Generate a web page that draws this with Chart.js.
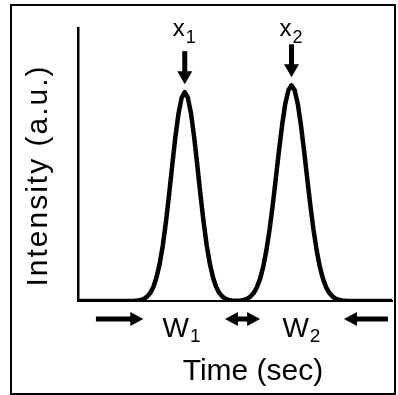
<!DOCTYPE html>
<html>
<head>
<meta charset="utf-8">
<script src="https://cdn.jsdelivr.net/npm/chart.js"></script>
<style>
  html, body { margin: 0; padding: 0; background: #fff; }
  #wrap { position: relative; width: 398px; height: 395px; }
  #frame { position: absolute; left: 10px; top: 4px; width: 382px; height: 387px; border: 2px solid #000; pointer-events: none; }
</style>
</head>
<body>
<div id="wrap">
  <canvas id="myChart" width="398" height="395"></canvas>
  <div id="frame"></div>
</div>
<script>
// time axis (arbitrary units 0-100) and the detector signal
var time = [0, 18, 19, 20, 21, 22, 23, 24, 25, 26, 27, 28, 29, 30, 31, 32, 33, 34, 35, 36, 37, 38, 39, 40,
    41, 42, 43, 44, 45, 46, 47, 48, 49, 50, 51, 52, 53, 54, 55, 56, 57, 58, 59, 60, 61, 62, 63, 64, 65,
    66, 67, 68, 69, 70, 71, 72, 73, 74, 75, 76, 77, 78, 79, 80, 81, 82, 83, 84, 85, 86, 100];
var intensity = [0, 0.1, 0.2, 0.4, 0.8, 1.6, 2.9, 5.1, 8.6, 13.6, 20.3, 28.9, 38.9, 49.6, 60.0, 68.6, 74.4, 76.5, 74.4, 68.6, 60.0, 49.6, 38.9, 28.9,
    20.3, 13.6, 8.6, 5.1, 2.9, 1.6, 0.8, 0.4, 0.2, 0.1, 0.1, 0.2, 0.5, 0.9, 1.7, 3.0, 5.1, 8.2, 12.6, 18.6, 26.1, 35.0, 44.9, 55.0, 64.4,
    72.2, 77.2, 79.0, 77.2, 72.2, 64.4, 55.0, 44.9, 35.0, 26.1, 18.6, 12.6, 8.2, 5.1, 3.0, 1.7, 0.9, 0.5, 0.2, 0.1, 0, 0];

// peak positions (x1, x2) and the peak width labels (W1, W2)
var peakTimes = [34, 68];
var peakSubs = ['1', '2'];
var widthTimes = [32.8, 71];
var widthSubs = ['1', '2'];

// arrows under the baseline, in time units
var arrowFrom = [5.7, 46.8, 84.7];
var arrowTo = [20.8, 58.0, 98.7];
var arrowHeads = ['end', 'both', 'start'];

var FONT = "'Liberation Sans', Arial, sans-serif";

// text with a lowered subscript, centred on cx
function subText(ctx, base, sub, cx, y, size, subSize, drop) {
    ctx.font = size + 'px ' + FONT;
    var w1 = ctx.measureText(base).width;
    ctx.font = subSize + 'px ' + FONT;
    var w2 = ctx.measureText(sub).width;
    var x0 = cx - (w1 + w2) / 2;
    ctx.textAlign = 'left';
    ctx.textBaseline = 'alphabetic';
    ctx.font = size + 'px ' + FONT;
    ctx.fillText(base, x0, y);
    ctx.font = subSize + 'px ' + FONT;
    ctx.fillText(sub, x0 + w1 + 1, y + drop);
}

function hArrow(ctx, xa, xb, y, heads) {
    var hl = 13, hh = 7, t = 2.5;
    var s0 = (heads === 'start' || heads === 'both') ? xa + hl - 1 : xa;
    var s1 = (heads === 'end' || heads === 'both') ? xb - hl + 1 : xb;
    ctx.fillRect(s0, y - t, s1 - s0, t * 2);
    if (heads === 'end' || heads === 'both') {
        ctx.beginPath();
        ctx.moveTo(xb - hl, y - hh); ctx.lineTo(xb, y); ctx.lineTo(xb - hl, y + hh);
        ctx.closePath(); ctx.fill();
    }
    if (heads === 'start' || heads === 'both') {
        ctx.beginPath();
        ctx.moveTo(xa + hl, y - hh); ctx.lineTo(xa, y); ctx.lineTo(xa + hl, y + hh);
        ctx.closePath(); ctx.fill();
    }
}

var labelsPlugin = {
    id: 'labels',
    afterDraw(chart) {
        var ctx = chart.ctx;
        var xs = chart.scales.x, ys = chart.scales.y, area = chart.chartArea;
        ctx.save();
        ctx.fillStyle = '#000';

        // x1 / x2 with arrows pointing at the peak tops
        peakTimes.forEach(function (t, i) {
            var px = xs.getPixelForValue(t);
            var tip = ys.getPixelForValue(intensity[time.indexOf(t)]) - 8;
            ctx.fillRect(px - 2.5, tip - 33, 5, 21);
            ctx.beginPath();
            ctx.moveTo(px - 7.5, tip - 13); ctx.lineTo(px + 7.5, tip - 13); ctx.lineTo(px, tip);
            ctx.closePath(); ctx.fill();
            subText(ctx, 'x', peakSubs[i], px - 1, area.top + 8, 24, 18, 7);
        });

        // arrows and W1 / W2 under the axis
        var ay = area.bottom + 18;
        arrowFrom.forEach(function (f, i) {
            hArrow(ctx, xs.getPixelForValue(f), xs.getPixelForValue(arrowTo[i]), ay, arrowHeads[i]);
        });
        widthTimes.forEach(function (t, i) {
            subText(ctx, 'W', widthSubs[i], xs.getPixelForValue(t), area.bottom + 36, 28, 19, 5);
        });

        // axis titles
        ctx.textAlign = 'center';
        ctx.textBaseline = 'middle';
        ctx.font = '30px ' + FONT;
        ctx.fillText('Time (sec)', (area.left + area.right) / 2 + 18, area.bottom + 71);

        ctx.translate(area.left - 39, (area.top + area.bottom) / 2 + 11);
        ctx.rotate(-Math.PI / 2);
        ctx.letterSpacing = '2px';
        ctx.fillText('Intensity (a.u.)', 0, 0);
        ctx.letterSpacing = '0px';
        ctx.restore();
    }
};

window.onload = function () {
    var points = time.map(function (t, i) { return { x: t, y: intensity[i] }; });
    var ctx = document.getElementById('myChart').getContext('2d');
    new Chart(ctx, {
        type: 'line',
        data: {
            datasets: [{
                data: points,
                borderColor: '#000',
                borderWidth: 4.5,
                borderJoinStyle: 'round',
                borderCapStyle: 'round',
                pointRadius: 0,
                tension: 0,
                fill: false
            }]
        },
        options: {
            responsive: false,
            animation: false,
            devicePixelRatio: 1,
            layout: { padding: { left: 78, right: 6, top: 28, bottom: 94 } },
            plugins: {
                legend: { display: false },
                tooltip: { enabled: false }
            },
            scales: {
                x: {
                    type: 'linear', min: 0, max: 100,
                    ticks: { display: false },
                    grid: { display: false, drawTicks: false },
                    border: { color: '#000', width: 2 }
                },
                y: {
                    type: 'linear', min: 0, max: 100,
                    ticks: { display: false },
                    grid: { display: false, drawTicks: false },
                    border: { color: '#000', width: 2.5 }
                }
            }
        },
        plugins: [labelsPlugin]
    });
};
</script>
</body>
</html>
